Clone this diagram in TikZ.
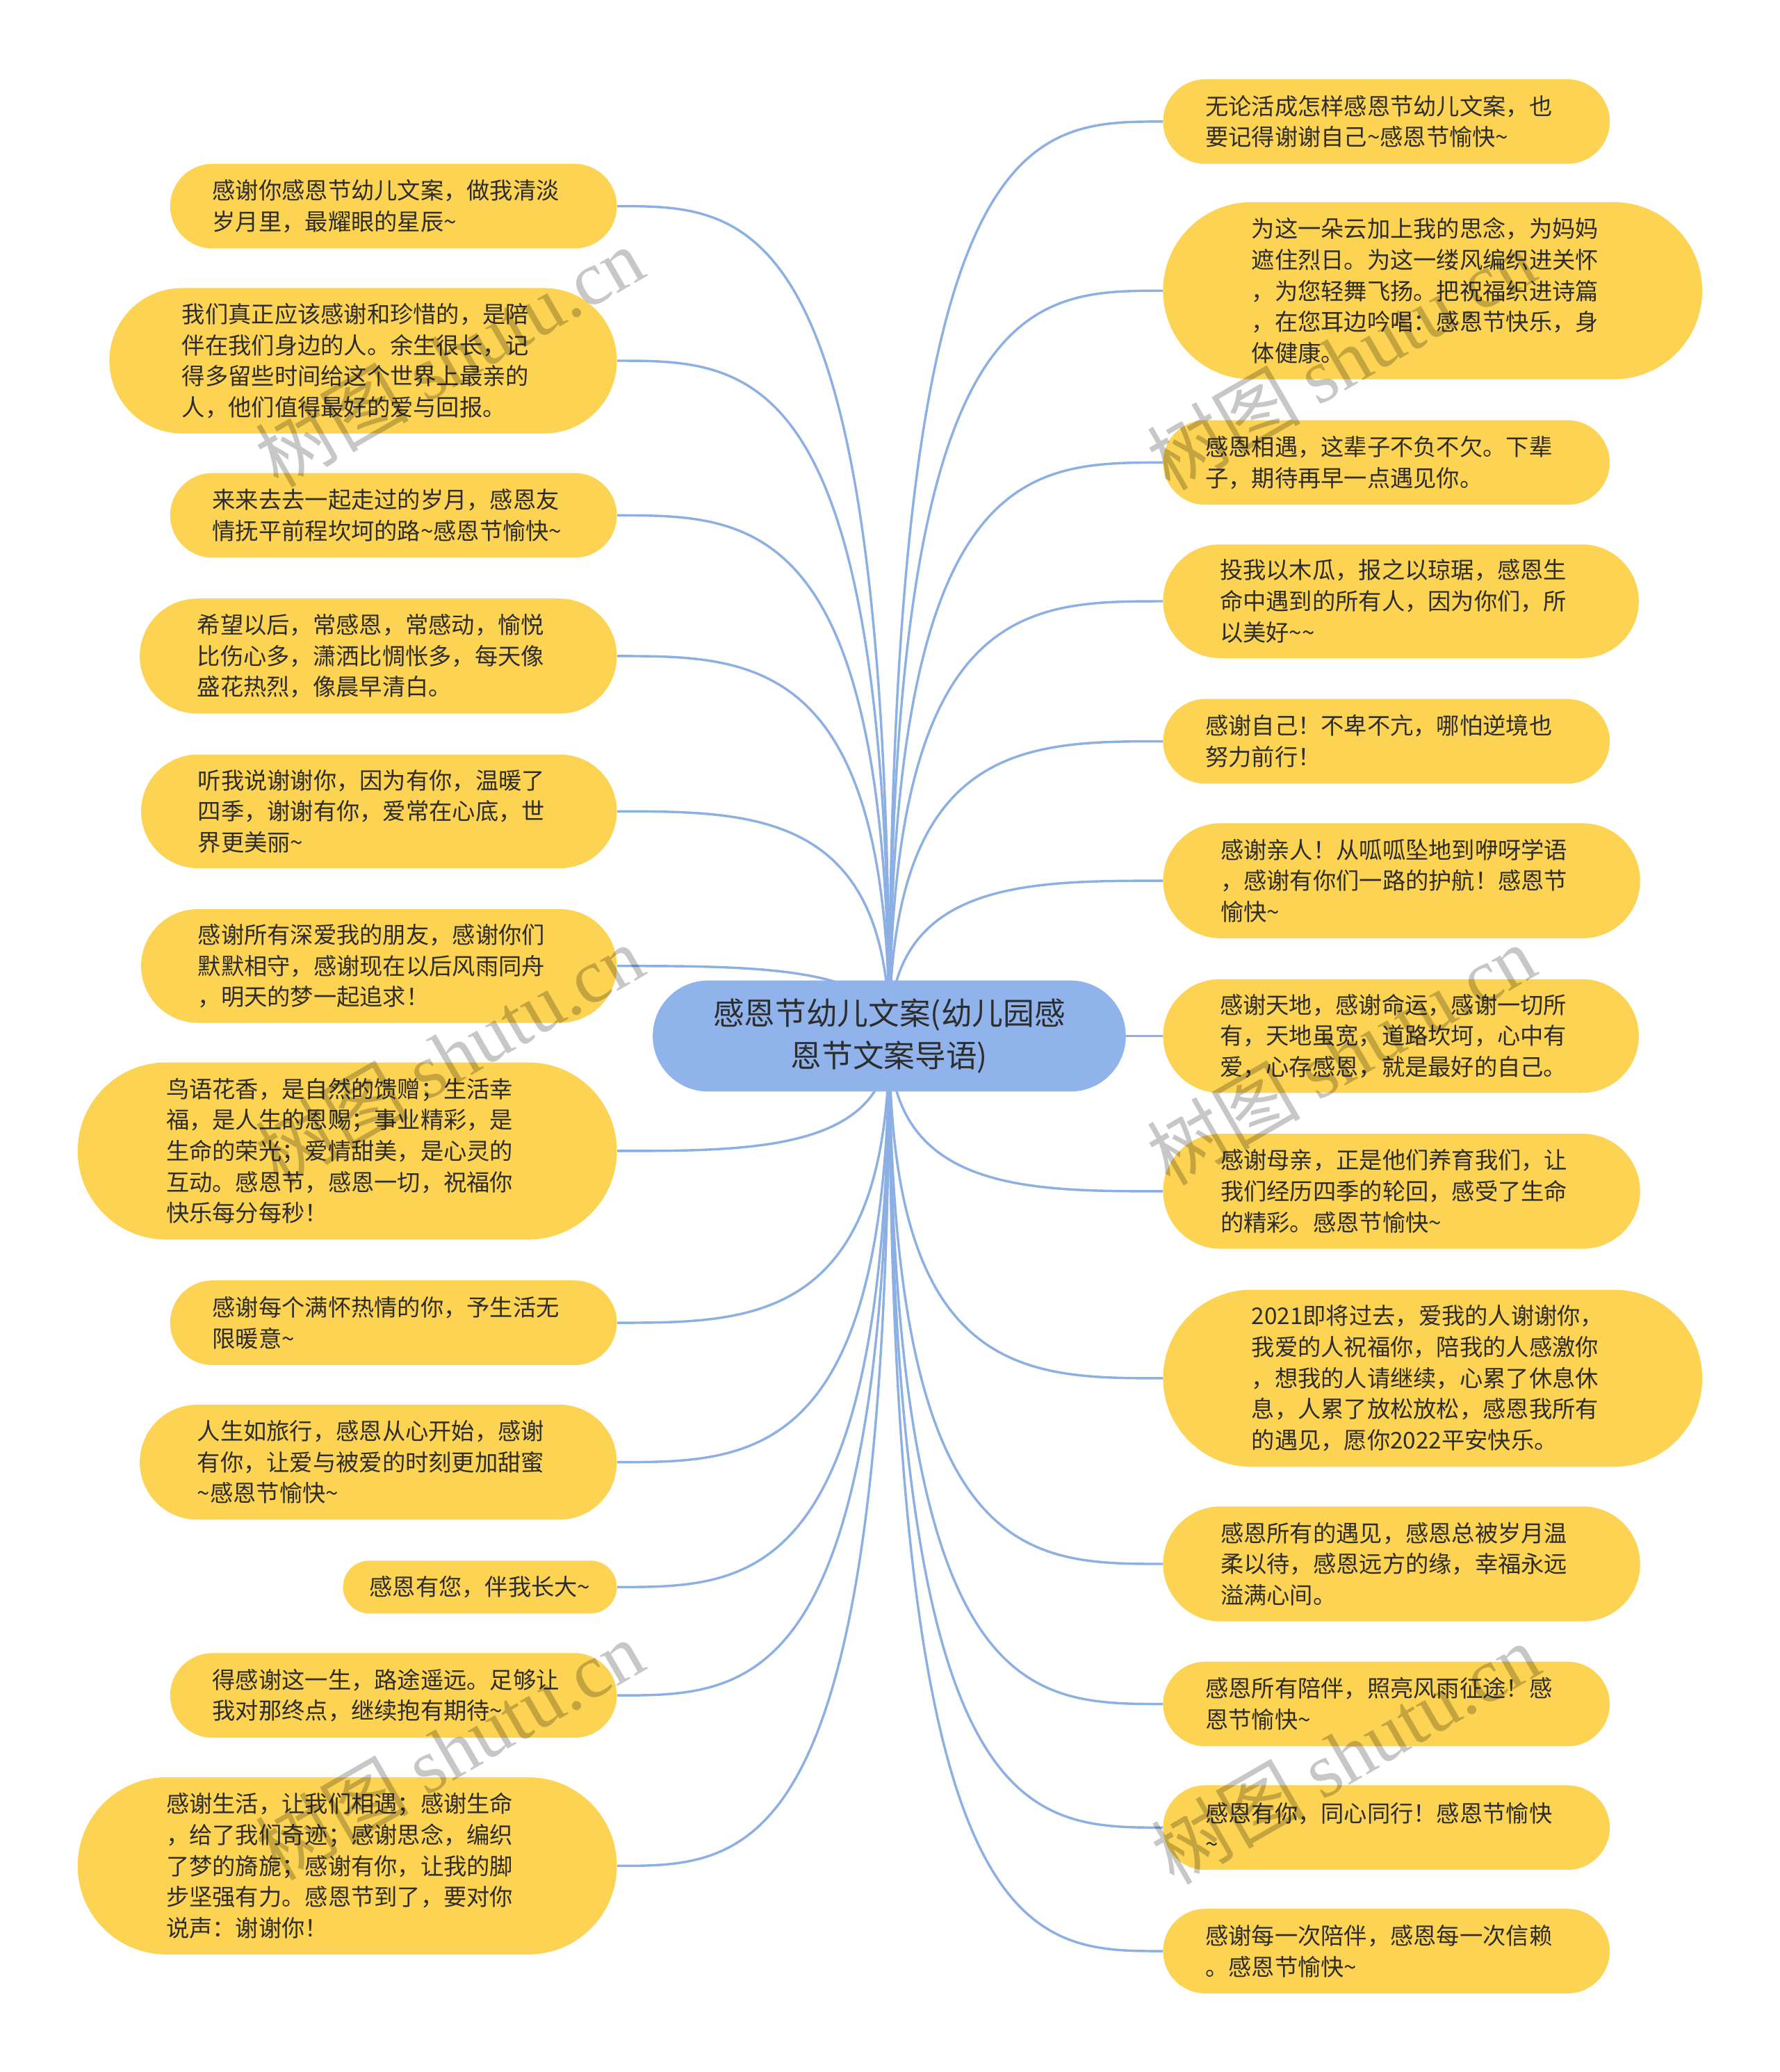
\documentclass[tikz,border=0pt]{standalone}
\usepackage{fontspec}
\setmainfont{Noto Sans CJK SC}
\newfontfamily\wmlatin{Liberation Serif}
\usetikzlibrary{calc,backgrounds}
\definecolor{leafy}{RGB}{252,211,82}
\definecolor{rootb}{RGB}{143,179,234}
\definecolor{linkb}{RGB}{140,175,228}
\definecolor{txt}{RGB}{45,45,45}
\newcommand\tld{\textasciitilde}
\begin{document}
\begin{tikzpicture}[x=1pt,y=-1pt,
  leaf/.style={fill=leafy, text=txt, font=\fontsize{17.5}{23.5}\selectfont, align=left, inner ysep=0pt},
  lf/.style={leaf, minimum height=#1, inner xsep=#1/2, rounded corners=#1/2-0.05},
  tw/.style={text width=274pt},
  root/.style={fill=rootb, text=txt, font=\fontsize{23.5}{32}\selectfont, align=center, text width=274pt,
    inner xsep=42pt, inner ysep=0pt, minimum height=84pt, rounded corners=41.9pt},
  link/.style={draw=linkb, line width=1.8pt},
  wm/.style={text=black, opacity=0.22, font=\fontsize{58}{60}\selectfont, inner sep=0pt}]
\useasboundingbox (0,0) rectangle (1346.6,1568);

\node[root] (C) at (673,784) {感恩节幼儿文案(幼儿园感\\恩节文案导语)};

% left column
\node[lf=64, tw, anchor=east] (L1) at (467,156) {感谢你感恩节幼儿文案，做我清淡\\岁月里，最耀眼的星辰\tld{}};
\node[lf=110, tw, anchor=east] (L2) at (467,273) {我们真正应该感谢和珍惜的，是陪\\伴在我们身边的人。余生很长，记\\得多留些时间给这个世界上最亲的\\人，他们值得最好的爱与回报。};
\node[lf=64, tw, anchor=east] (L3) at (467,390) {来来去去一起走过的岁月，感恩友\\情抚平前程坎坷的路\tld{}感恩节愉快\tld{}};
\node[lf=87, tw, anchor=east] (L4) at (467,496.5) {希望以后，常感恩，常感动，愉悦\\比伤心多，潇洒比惆怅多，每天像\\盛花热烈，像晨早清白。};
\node[lf=86, tw, anchor=east] (L5) at (467,614) {听我说谢谢你，因为有你，温暖了\\四季，谢谢有你，爱常在心底，世\\界更美丽\tld{}};
\node[lf=86, tw, anchor=east] (L6) at (467,731) {感谢所有深爱我的朋友，感谢你们\\默默相守，感谢现在以后风雨同舟\\，明天的梦一起追求！};
\node[lf=134, tw, anchor=east] (L7) at (467,871) {鸟语花香，是自然的馈赠；生活幸\\福，是人生的恩赐；事业精彩，是\\生命的荣光；爱情甜美，是心灵的\\互动。感恩节，感恩一切，祝福你\\快乐每分每秒！};
\node[lf=64, tw, anchor=east] (L8) at (467,1001) {感谢每个满怀热情的你，予生活无\\限暖意\tld{}};
\node[lf=87, tw, anchor=east] (L9) at (467,1106.5) {人生如旅行，感恩从心开始，感谢\\有你，让爱与被爱的时刻更加甜蜜\\\tld{}感恩节愉快\tld{}};
\node[lf=40, anchor=east] (L10) at (467,1201) {感恩有您，伴我长大\tld{}};
\node[lf=64, tw, anchor=east] (L11) at (467,1283) {得感谢这一生，路途遥远。足够让\\我对那终点，继续抱有期待\tld{}};
\node[lf=134, tw, anchor=east] (L12) at (467,1412) {感谢生活，让我们相遇；感谢生命\\，给了我们奇迹；感谢思念，编织\\了梦的旖旎；感谢有你，让我的脚\\步坚强有力。感恩节到了，要对你\\说声：谢谢你！};

% right column
\node[lf=64, tw, anchor=west] (R1) at (880,92) {无论活成怎样感恩节幼儿文案，也\\要记得谢谢自己\tld{}感恩节愉快\tld{}};
\node[lf=134, tw, anchor=west] (R2) at (880,220) {为这一朵云加上我的思念，为妈妈\\遮住烈日。为这一缕风编织进关怀\\，为您轻舞飞扬。把祝福织进诗篇\\，在您耳边吟唱：感恩节快乐，身\\体健康。};
\node[lf=64, tw, anchor=west] (R3) at (880,350) {感恩相遇，这辈子不负不欠。下辈\\子，期待再早一点遇见你。};
\node[lf=86, tw, anchor=west] (R4) at (880,455) {投我以木瓜，报之以琼琚，感恩生\\命中遇到的所有人，因为你们，所\\以美好\tld{}\tld{}};
\node[lf=64, tw, anchor=west] (R5) at (880,561) {感谢自己！不卑不亢，哪怕逆境也\\努力前行！};
\node[lf=87, tw, anchor=west] (R6) at (880,666.5) {感谢亲人！从呱呱坠地到咿呀学语\\，感谢有你们一路的护航！感恩节\\愉快\tld{}};
\node[lf=86, tw, anchor=west] (R7) at (880,784) {感谢天地，感谢命运，感谢一切所\\有，天地虽宽，道路坎坷，心中有\\爱，心存感恩，就是最好的自己。};
\node[lf=87, tw, anchor=west] (R8) at (880,901.5) {感谢母亲，正是他们养育我们，让\\我们经历四季的轮回，感受了生命\\的精彩。感恩节愉快\tld{}};
\node[lf=134, tw, anchor=west] (R9) at (880,1043) {2021即将过去，爱我的人谢谢你，\\我爱的人祝福你，陪我的人感激你\\，想我的人请继续，心累了休息休\\息，人累了放松放松，感恩我所有\\的遇见，愿你2022平安快乐。};
\node[lf=87, tw, anchor=west] (R10) at (880,1183.5) {感恩所有的遇见，感恩总被岁月温\\柔以待，感恩远方的缘，幸福永远\\溢满心间。};
\node[lf=64, tw, anchor=west] (R11) at (880,1289.5) {感恩所有陪伴，照亮风雨征途！感\\恩节愉快\tld{}};
\node[lf=64, tw, anchor=west] (R12) at (880,1383) {感恩有你，同心同行！感恩节愉快\\\tld{}};
\node[lf=64, tw, anchor=west] (R13) at (880,1476.5) {感谢每一次陪伴，感恩每一次信赖\\。感恩节愉快\tld{}};

\begin{scope}[on background layer]
\fill[white] (0,0) rectangle (1346.6,1568);
\foreach \n in {L1,L2,L3,L4,L5,L6,L7,L8,L9,L10,L11,L12}
  \draw[link] (C.center) .. controls (C.center |- \n.east) and ($(C.center |- \n.east)!0.5!(\n.east)$) .. (\n.east);
\foreach \n in {R1,R2,R3,R4,R5,R6,R7,R8,R9,R10,R11,R12,R13}
  \draw[link] (C.center) .. controls (C.center |- \n.west) and ($(C.center |- \n.west)!0.5!(\n.west)$) .. (\n.west);
\end{scope}

% watermarks
\node[wm, rotate=30] (W1) at (340,270) {树图 {\wmlatin shutu.cn}};
\node[wm, rotate=30] (W2) at (1015,272) {树图 {\wmlatin shutu.cn}};
\node[wm, rotate=30] (W3) at (340,798) {树图 {\wmlatin shutu.cn}};
\node[wm, rotate=30] (W4) at (1015,798) {树图 {\wmlatin shutu.cn}};
\node[wm, rotate=30] (W5) at (340,1324) {树图 {\wmlatin shutu.cn}};
\node[wm, rotate=30] (W6) at (1018,1327) {树图 {\wmlatin shutu.cn}};
\end{tikzpicture}
\end{document}
